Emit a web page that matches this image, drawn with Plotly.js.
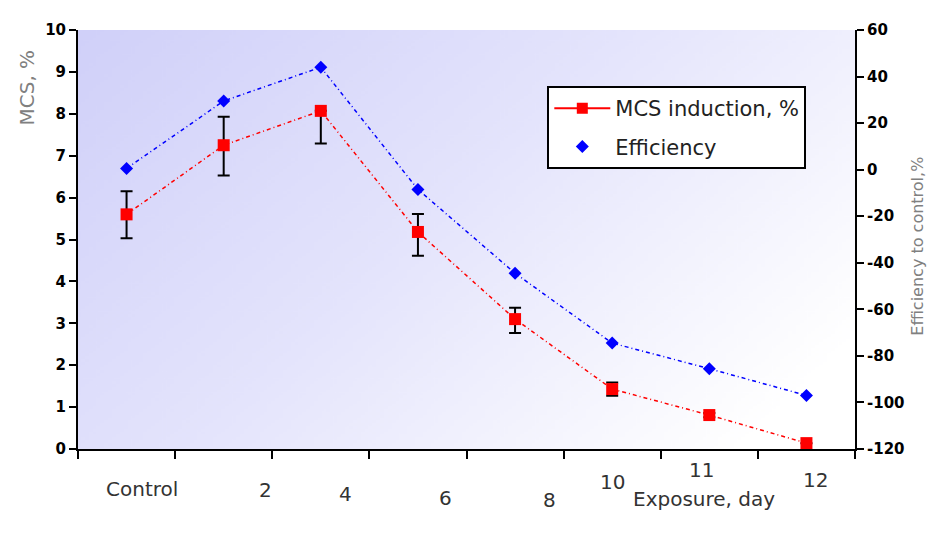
<!DOCTYPE html>
<html>
<head>
<meta charset="utf-8">
<script src="https://cdn.plot.ly/plotly-3.0.1.min.js"></script>
<style>html,body{margin:0;padding:0;background:#fff;}#chart{width:932px;height:535px;}</style>
</head>
<body>
<div id="chart"></div>
<script>
// ---- data ----
const categories = ["Control", "2", "4", "6", "8", "10", "11", "12"];
const mcsInduction = [5.6, 7.25, 8.07, 5.18, 3.1, 1.43, 0.81, 0.14];
const mcsErrPlus = [0.55, 0.68, 0, 0.43, 0.27, 0.16, 0.05, 0];
const mcsErrMinus = [0.57, 0.72, 0.78, 0.57, 0.33, 0.16, 0.05, 0];
const efficiency = [0.5, 29.5, 44, -8.5, -44.5, -74.5, -85.5, -97];
const leftTicks = [0, 1, 2, 3, 4, 5, 6, 7, 8, 9, 10];
const rightTicks = [-120, -100, -80, -60, -40, -20, 0, 20, 40, 60];

// styling: the reference places its category labels unevenly (pixel offsets)
const labelDx = [15, 42, 25, 28, 34, 0, -8, 9];
const labelDy = [-40, -41, -45, -49, -51, -33, -21, -31];

// gradient background for the plot area
function gradientURL() {
  const c = document.createElement('canvas');
  c.width = 400; c.height = 300;
  const ctx = c.getContext('2d');
  const g = ctx.createLinearGradient(0, 0, 400, 300);
  g.addColorStop(0, '#d0d0f9');
  g.addColorStop(0.45, '#e4e4fc');
  g.addColorStop(0.9, '#ffffff');
  g.addColorStop(1, '#ffffff');
  ctx.fillStyle = g;
  ctx.fillRect(0, 0, 400, 300);
  return c.toDataURL();
}

const traces = [
  { // legend entry for MCS
    x: [null], y: [null], type: 'scatter', mode: 'lines+markers',
    name: 'MCS induction, %', legendgroup: 'a',
    line: { color: '#ff0000', width: 2 },
    marker: { symbol: 'square', size: 11, color: '#ff0000' },
    hoverinfo: 'skip'
  },
  { // legend entry for Efficiency
    x: [null], y: [null], type: 'scatter', mode: 'markers', yaxis: 'y2',
    name: 'Efficiency', legendgroup: 'b',
    marker: { symbol: 'diamond', size: 10, color: '#0000ff' },
    hoverinfo: 'skip'
  },
  {
    x: categories, y: efficiency, type: 'scatter', mode: 'lines+markers', yaxis: 'y2',
    showlegend: false,
    line: { color: '#0000ff', width: 1.5, dash: '4px,3px,1px,3px' },
    marker: { symbol: 'diamond', size: 10, color: '#0000ff' }
  },
  {
    x: categories, y: mcsInduction, type: 'scatter', mode: 'lines+markers',
    showlegend: false,
    line: { color: '#ff0000', width: 1.5, dash: '4px,3px,1px,3px' },
    marker: { symbol: 'square', size: 12, color: '#ff0000' },
    error_y: { type: 'data', symmetric: false, array: mcsErrPlus, arrayminus: mcsErrMinus,
      color: '#000000', thickness: 2, width: 6 }
  }
];

// category tick labels, placed at each category's index on the category axis
const tickLabelAnnotations = categories.map((c, i) => ({
  text: c, x: i, xref: 'x', y: 0, yref: 'paper',
  xanchor: 'center', yanchor: 'middle', xshift: labelDx[i], yshift: labelDy[i],
  showarrow: false, font: { size: 20, color: '#333' }
}));

const layout = {
  width: 932, height: 535,
  margin: { l: 78, r: 77, t: 30, b: 86 },
  paper_bgcolor: '#ffffff',
  plot_bgcolor: 'rgba(0,0,0,0)',
  font: { family: 'DejaVu Sans, sans-serif', color: '#000' },
  showlegend: true,
  legend: {
    x: 0.604, y: 0.866, xanchor: 'left', yanchor: 'top',
    bgcolor: '#ffffff', bordercolor: '#000000', borderwidth: 2,
    font: { size: 21, color: '#222' },
    itemwidth: 56, tracegroupgap: 8
  },
  xaxis: {
    type: 'category', range: [-0.5, 7.5],
    tickson: 'boundaries', ticks: 'outside', ticklen: 8, tickwidth: 2, tickcolor: '#000',
    showline: true, linecolor: '#000', linewidth: 2, showgrid: false, zeroline: false,
    showticklabels: false,
    fixedrange: true
  },
  yaxis: {
    range: [0, 10], tickvals: leftTicks, ticktext: leftTicks.map(String),
    ticks: 'outside', ticklen: 7, tickwidth: 2, tickcolor: '#000',
    showline: true, linecolor: '#000', linewidth: 2, showgrid: false, zeroline: false,
    tickfont: { size: 15, color: '#000', weight: 'bold' },
    fixedrange: true
  },
  yaxis2: {
    overlaying: 'y', side: 'right', range: [-120, 60],
    tickvals: rightTicks, ticktext: rightTicks.map(String),
    ticks: 'outside', ticklen: 7, tickwidth: 2, tickcolor: '#000',
    showline: true, linecolor: '#000', linewidth: 2, showgrid: false, zeroline: false,
    tickfont: { size: 15, color: '#000', weight: 'bold' },
    fixedrange: true
  },
  images: [{
    source: gradientURL(), xref: 'paper', yref: 'paper',
    x: 0, y: 1, sizex: 1, sizey: 1, sizing: 'stretch', layer: 'below',
    xanchor: 'left', yanchor: 'top'
  }],
  annotations: tickLabelAnnotations.concat([
    { text: 'MCS, %', xref: 'paper', yref: 'paper', x: -0.066, y: 0.862,
      xanchor: 'center', yanchor: 'middle',
      textangle: -90, showarrow: false, font: { size: 20, color: '#808080' } },
    { text: 'Efficiency to control,%', xref: 'paper', yref: 'paper', x: 1.081, y: 0.485,
      xanchor: 'center', yanchor: 'middle',
      textangle: -90, showarrow: false, font: { size: 16, color: '#808080' } },
    { text: 'Exposure, day', xref: 'paper', yref: 'paper', x: 0.806, y: -0.119,
      xanchor: 'center', yanchor: 'middle',
      showarrow: false, font: { size: 20, color: '#333' } }
  ])
};

Plotly.newPlot('chart', traces, layout, { displayModeBar: false, staticPlot: true });
</script>
</body>
</html>
